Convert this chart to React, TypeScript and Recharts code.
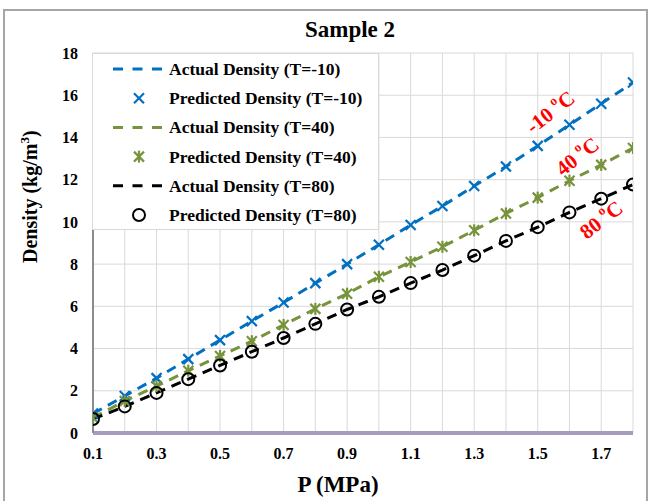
import type { ReactNode } from "react";
import { CartesianGrid, ComposedChart, Line, ReferenceDot, XAxis, YAxis } from "recharts";

const SERIF = "'Liberation Serif', 'Times New Roman', serif";
const BLUE = "#0070c0";
const GREEN = "#77933c";
const BLACK = "#000000";

const pressures = [0.1, 0.2, 0.3, 0.4, 0.5, 0.6, 0.7, 0.8, 0.9, 1.0, 1.1, 1.2, 1.3, 1.4, 1.5, 1.6, 1.7, 1.8];
const xTickLabels = [0.1, 0.3, 0.5, 0.7, 0.9, 1.1, 1.3, 1.5, 1.7];
const yTicks = [0, 2, 4, 6, 8, 10, 12, 14, 16, 18];

const actualM10 = [0.92, 1.75, 2.6, 3.5, 4.4, 5.3, 6.18, 7.1, 8.0, 8.92, 9.85, 10.75, 11.7, 12.62, 13.6, 14.6, 15.6, 16.6];
const predictedM10 = [0.92, 1.75, 2.6, 3.5, 4.4, 5.3, 6.18, 7.1, 8.0, 8.92, 9.85, 10.75, 11.7, 12.62, 13.6, 14.6, 15.6, 16.6];
const actual40 = [0.72, 1.52, 2.22, 2.95, 3.65, 4.35, 5.12, 5.88, 6.6, 7.4, 8.1, 8.82, 9.6, 10.4, 11.15, 11.95, 12.7, 13.5];
const predicted40 = [0.72, 1.52, 2.22, 2.95, 3.65, 4.35, 5.12, 5.88, 6.6, 7.4, 8.1, 8.82, 9.6, 10.4, 11.15, 11.95, 12.7, 13.5];
const actual80 = [0.66, 1.26, 1.9, 2.55, 3.2, 3.85, 4.5, 5.17, 5.85, 6.45, 7.1, 7.72, 8.4, 9.1, 9.75, 10.45, 11.1, 11.77];
const predicted80 = [0.66, 1.26, 1.9, 2.55, 3.2, 3.85, 4.5, 5.17, 5.85, 6.45, 7.1, 7.72, 8.4, 9.1, 9.75, 10.45, 11.1, 11.77];

// temperature labels next to the curves (data coords)
const curveLabels = [
  { label: "-10 ", p: 1.54, d: 15.2 },
  { label: "40 ", p: 1.625, d: 13.1 },
  { label: "80 ", p: 1.7, d: 10.1 },
];

const legendItems = [
  { kind: "line", color: BLUE, label: "Actual Density (T=-10)" },
  { kind: "cross", color: BLUE, label: "Predicted Density (T=-10)" },
  { kind: "line", color: GREEN, label: "Actual Density (T=40)" },
  { kind: "star", color: GREEN, label: "Predicted Density (T=40)" },
  { kind: "line", color: BLACK, label: "Actual Density (T=80)" },
  { kind: "circle", color: BLACK, label: "Predicted Density (T=80)" },
];

function marker(kind: string, color: string, cx: number, cy: number): ReactNode {
  if (kind === "cross")
    return (
      <g stroke={color} strokeWidth={2.2}>
        <line x1={cx - 5} y1={cy - 5} x2={cx + 5} y2={cy + 5} />
        <line x1={cx - 5} y1={cy + 5} x2={cx + 5} y2={cy - 5} />
      </g>
    );
  if (kind === "star")
    return (
      <g stroke={color} strokeWidth={2.2}>
        <line x1={cx - 5} y1={cy - 5} x2={cx + 5} y2={cy + 5} />
        <line x1={cx - 5} y1={cy + 5} x2={cx + 5} y2={cy - 5} />
        <line x1={cx} y1={cy - 6} x2={cx} y2={cy + 6} />
      </g>
    );
  if (kind === "circle") return <circle cx={cx} cy={cy} r={6} fill="none" stroke={color} strokeWidth={2} />;
  return <line x1={cx - 26} y1={cy} x2={cx + 24} y2={cy} stroke={color} strokeWidth={3} strokeDasharray="10 9.5" />;
}

const dotOf = (kind: string, color: string) => (props: any) => {
  const { cx, cy, index } = props;
  if (cx == null || cy == null) return <g key={index} />;
  return <g key={index}>{marker(kind, color, cx, cy)}</g>;
};

function XTick(props: any) {
  const { x, y, payload } = props;
  if (!xTickLabels.includes(payload.value)) return <g />;
  return (
    <text x={x} y={y} dy={24} textAnchor="middle" fill="#000" fontSize={16} fontWeight="bold" fontFamily={SERIF}>
      {payload.value.toFixed(1)}
    </text>
  );
}

function TempLabel({ cx, cy, label }: any) {
  if (cx == null) return <g />;
  return (
    <text x={cx} y={cy} transform={`rotate(-38 ${cx} ${cy})`} textAnchor="middle" dominantBaseline="central" fill="#ff0000" fontSize={21} fontWeight="bold" fontFamily={SERIF}>
      {label}
      <tspan dy={-8} fontSize={13}>o</tspan>
      <tspan dy={8}>C</tspan>
    </text>
  );
}

export default function App() {
  const rows = pressures.map((p, i) => ({
    p,
    a1: actualM10[i],
    p1: predictedM10[i],
    a2: actual40[i],
    p2: predicted40[i],
    a3: actual80[i],
    p3: predicted80[i],
  }));
  const dash = "10 7";
  return (
    <div style={{ position: "absolute", left: 0, top: 0, width: 650, height: 501, background: "#fff" }}>
      <ComposedChart width={650} height={501} data={rows} margin={{ top: 53, right: 17, bottom: 0, left: 0 }}>
        <CartesianGrid stroke="#d9d9d9" strokeWidth={1} />
        <XAxis type="number" dataKey="p" domain={[0.1, 1.8]} ticks={pressures} interval={0} tick={<XTick />} tickLine={false} tickSize={0} height={68} axisLine={{ stroke: "#a89bc2", strokeWidth: 4 }} allowDataOverflow />
        <YAxis type="number" domain={[0, 18]} ticks={yTicks} interval={0} width={93} tickLine={false} tickSize={0} tickMargin={15} axisLine={{ stroke: "#8c8c8c", strokeWidth: 2 }} tick={{ fill: "#000", fontSize: 16, fontWeight: "bold", fontFamily: SERIF }} />
        <Line dataKey="a1" stroke={BLUE} strokeWidth={3} strokeDasharray={dash} dot={false} activeDot={false} isAnimationActive={false} />
        <Line dataKey="p1" stroke="none" dot={dotOf("cross", BLUE)} activeDot={false} isAnimationActive={false} />
        <Line dataKey="a2" stroke={GREEN} strokeWidth={3} strokeDasharray={dash} dot={false} activeDot={false} isAnimationActive={false} />
        <Line dataKey="p2" stroke="none" dot={dotOf("star", GREEN)} activeDot={false} isAnimationActive={false} />
        <Line dataKey="a3" stroke={BLACK} strokeWidth={3} strokeDasharray={dash} dot={false} activeDot={false} isAnimationActive={false} />
        <Line dataKey="p3" stroke="none" dot={dotOf("circle", BLACK)} activeDot={false} isAnimationActive={false} />
        {curveLabels.map((c) => (
          <ReferenceDot key={c.label} x={c.p} y={c.d} r={0} ifOverflow="visible" shape={(props: any) => <TempLabel {...props} label={c.label} />} />
        ))}
      </ComposedChart>
      <svg width={650} height={501} style={{ position: "absolute", left: 0, top: 0, pointerEvents: "none" }}>
        <rect x={4} y={10} width={643} height={494} fill="none" stroke="#a6a6a6" strokeWidth={2} />
        <text x={350} y={37} textAnchor="middle" fontSize={23} fontWeight="bold" fontFamily={SERIF}>Sample 2</text>
        <text x={338} y={492} textAnchor="middle" fontSize={23} fontWeight="bold" fontFamily={SERIF}>P (MPa)</text>
        <text transform="translate(37 263) rotate(-90)" textAnchor="start" fontSize={20} fontWeight="bold" fontFamily={SERIF}>
          Density (kg/m<tspan dy={-8} fontSize={13}>3</tspan><tspan dy={8}>)</tspan>
        </text>
        <rect x={92.5} y={53.5} width={286} height={176} fill="#fff" stroke="#d9d9d9" strokeWidth={1} />
        {legendItems.map((it, i) => {
          const cy = 69 + i * 29.2;
          return (
            <g key={it.label}>
              {marker(it.kind, it.color, 139, cy)}
              <text x={169} y={cy + 6} fontSize={17.5} fontWeight="bold" fontFamily={SERIF}>{it.label}</text>
            </g>
          );
        })}
      </svg>
    </div>
  );
}
